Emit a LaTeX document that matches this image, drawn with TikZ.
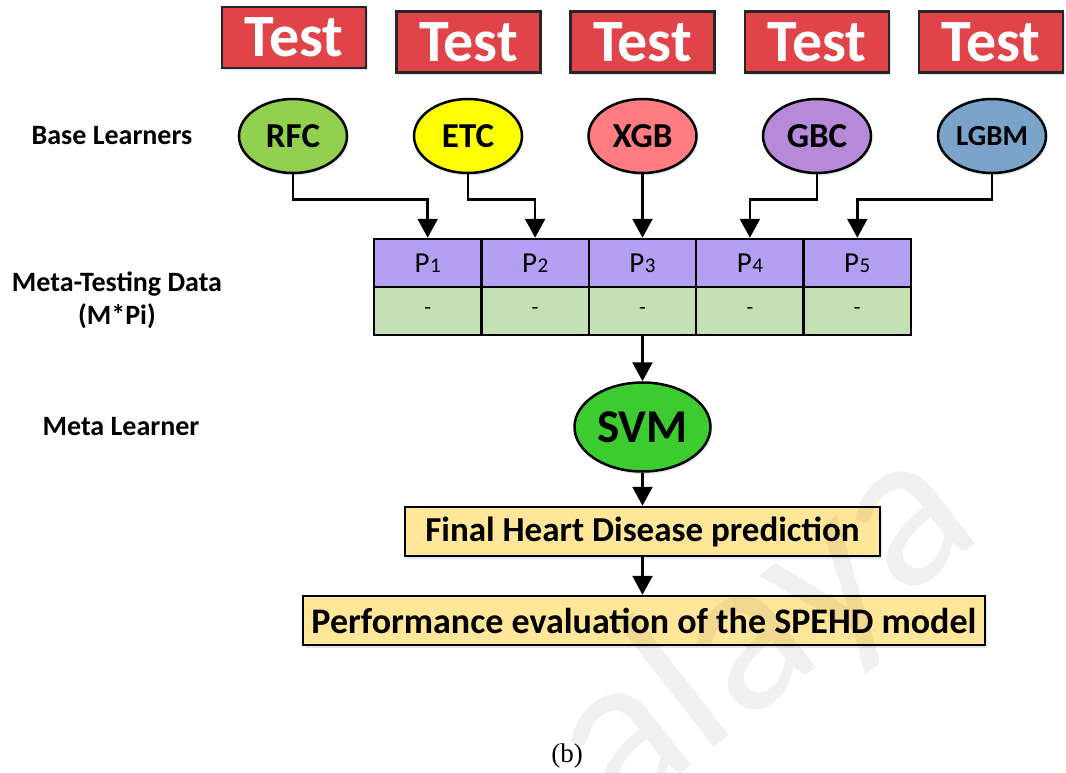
\documentclass[tikz,border=0pt]{standalone}
\usepackage{fontspec}
\setmainfont{Carlito}
\newfontfamily\capfont{Liberation Serif}
\usetikzlibrary{arrows.meta,shadows,shapes.geometric}

\definecolor{testred}{HTML}{E04448}
\definecolor{rfccol}{HTML}{92D050}
\definecolor{etccol}{HTML}{FFFF00}
\definecolor{xgbcol}{HTML}{FF7C80}
\definecolor{gbccol}{HTML}{B68AD8}
\definecolor{lgbmcol}{HTML}{7BA3C9}
\definecolor{cellpurple}{HTML}{B4A0F2}
\definecolor{cellgreen}{HTML}{C5E0B4}
\definecolor{svmcol}{HTML}{3CCC30}
\definecolor{resultcol}{HTML}{FFE699}
\definecolor{shadowcol}{HTML}{A8B8D8}

\newcommand{\fsz}[1]{\fontsize{#1}{#1}\selectfont}
\newcommand{\pidx}[1]{P\kern0.5pt{\fsz{21}#1}}

\tikzset{
  softshadow/.style={drop shadow={shadow xshift=1.5pt,shadow yshift=-2.5pt,opacity=0.35,fill=shadowcol}},
  testbox/.style={draw=black!85,line width=2.5pt,fill=testred,minimum width=144pt,minimum height=61pt,
    inner sep=0pt,text=white,font=\bfseries\fsz{60},softshadow},
  learner/.style={ellipse,draw=black,line width=2.5pt,minimum width=108pt,minimum height=74pt,
    inner sep=0pt,font=\bfseries\fsz{35},softshadow},
  pcell/.style={draw=black,line width=2.5pt,fill=cellpurple,minimum width=107.4pt,minimum height=48pt,
    inner sep=0pt,font=\fsz{29}},
  dcell/.style={draw=black,line width=2.5pt,fill=cellgreen,minimum width=107.4pt,minimum height=48pt,
    inner sep=0pt,font=\fsz{22}},
  resultbox/.style={draw=black,line width=2.5pt,fill=resultcol,minimum height=49pt,inner sep=0pt,softshadow},
  sidelabel/.style={font=\bfseries\fsz{28},align=center},
  link/.style={draw=black,line width=2.5pt,-{Triangle[width=20pt,length=19pt]}},
}

\begin{document}
\begin{tikzpicture}[x=1pt,y=-1pt]
\useasboundingbox (0,0) rectangle (1066,773);

% test sets
\node[testbox] (t1) at (294,37.5) {Test};
\node[testbox] (t2) at (468.5,42) {Test};
\node[testbox] (t3) at (642.5,42) {Test};
\node[testbox] (t4) at (817,42) {Test};
\node[testbox] (t5) at (991,42) {Test};

% base learners
\node[learner,fill=rfccol]  (rfc)  at (293,136) {RFC};
\node[learner,fill=etccol]  (etc)  at (468,136) {ETC};
\node[learner,fill=xgbcol]  (xgb)  at (642.5,136) {XGB};
\node[learner,fill=gbccol]  (gbc)  at (817,136) {GBC};
\node[learner,fill=lgbmcol,font=\bfseries\fsz{29}] (lgbm) at (992,136) {LGBM};

% meta-testing data table
\foreach \i/\x in {1/427.7,2/535.1,3/642.5,4/749.9,5/857.3}{
  \node[pcell] (p\i) at (\x,263) {\pidx{\i}};
  \node[dcell] (d\i) at (\x,311) {-};
}

% meta learner and results
\node[learner,fill=svmcol,minimum width=136pt,minimum height=89pt,font=\bfseries\fsz{47}] (svm) at (642.5,427) {SVM};
\node[resultbox,minimum width=475pt,font=\bfseries\fsz{35}] (final) at (642.5,531.5) {Final Heart Disease prediction};
\node[resultbox,minimum width=682pt,font=\bfseries\fsz{36}] (perf) at (644,620.5) {Performance evaluation of the SPEHD model};

% row labels
\node[sidelabel] (lb1) at (112,136) {Base Learners};
\node[sidelabel,text height=19pt] (lb2) at (117,317) {Meta-Testing Data\\[5pt](M*Pi)};
\node[sidelabel] (lb3) at (121,427) {Meta Learner};

% connectors
\draw[link] (rfc.south)  -- ++(0,25) -| (p1.north);
\draw[link] (etc.south)  -- ++(0,25) -| (p2.north);
\draw[link] (xgb.south)  -- (p3.north);
\draw[link] (gbc.south)  -- ++(0,25) -| (p4.north);
\draw[link] (lgbm.south) -- ++(0,25) -| (p5.north);
\draw[link] (d3.south) -- (svm.north);
\draw[link] (svm.south) -- (final.north);
\draw[link] (final.south) -- (final.south |- perf.north);

% caption
\node[font=\capfont\fsz{27}] (cap) at (567,756) {(b)};

% repository watermark
\node[rotate=38,text opacity=0.06,font=\fsz{225}] (wm) at (765,632) {alaya};
\end{tikzpicture}
\end{document}
